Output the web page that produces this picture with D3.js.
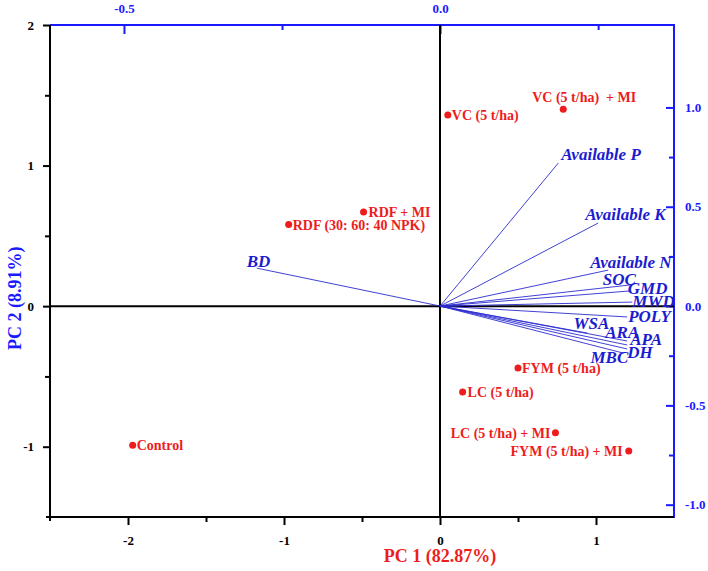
<!DOCTYPE html>
<html>
<head>
<meta charset="utf-8">
<script src="https://cdn.jsdelivr.net/npm/d3@7"></script>
<style>
  html, body { margin: 0; padding: 0; background: #fff; }
  svg { display: block; }
  text { font-family: "Liberation Serif", "Times New Roman", serif; }
</style>
</head>
<body>
<svg id="chart" width="708" height="571"></svg>
<script>
// ---------- data ----------
const treatments = ["VC (5 t/ha)", "VC (5 t/ha)  + MI", "RDF + MI", "RDF (30: 60: 40 NPK)",
  "FYM (5 t/ha)", "LC (5 t/ha)", "LC (5 t/ha) + MI", "FYM (5 t/ha) + MI", "Control"];
const pc1Scores = [0.05, 0.79, -0.49, -0.97, 0.50, 0.145, 0.74, 1.21, -1.97];
const pc2Scores = [1.36, 1.40, 0.67, 0.58, -0.44, -0.61, -0.90, -1.03, -0.99];

const variables = ["Available P", "Available K", "Available N", "SOC", "GMD", "MWD", "POLY",
  "WSA", "ARA", "APA", "DH", "MBC", "BD"];
const pc1Loadings = [0.187, 0.250, 0.266, 0.300, 0.300, 0.304, 0.296, 0.233, 0.296, 0.296, 0.296, 0.290, -0.290];
const pc2Loadings = [0.720, 0.418, 0.181, 0.106, 0.076, 0.020, -0.055, -0.136, -0.176, -0.196, -0.216, -0.237, 0.191];

const bottomTicks = [-2, -1, 0, 1];
const bottomMinor = [-1.5, -0.5, 0.5];
const leftTicks = [2, 1, 0, -1];
const leftMinor = [1.5, 0.5, -0.5];
const topTicks = [-0.5, 0.0];
const topMinor = [-0.25, 0.25];
const rightTicks = [1.0, 0.5, 0.0, -0.5, -1.0];
const rightMinor = [0.75, 0.25, -0.25, -0.75];

const xTitle = "PC 1 (82.87%)";
const yTitle = "PC 2 (8.91%)";

// ---------- layout (not data) ----------
// label placement per treatment: [anchor, dx, dy]
const pointLabelPos = [
  ["start", 4, 5], ["start", -31, -7], ["start", 5, 5], ["start", 4, 5],
  ["start", 4, 5], ["start", 5, 5], ["end", -5, 5], ["end", -6, 5], ["start", 4, 5]
];
// label offsets per variable: [dx, dy]
const varLabelPos = [
  [3, -3], [-13, -3], [-18, -2], [-27, 0], [-2, 3], [0, 5], [1, 5],
  [-14, -4], [-22, -3], [3, 0], [0, 9], [-33, 10], [-10, -1]
];

const red = "#ee1c1c", blue = "#1a1aff", vblue = "#2b2bd0", vtext = "#1c1ccf";

const L = 50, R = 674, T = 25, B = 517;
const x = d3.scaleLinear().domain([-2.5, 1.5]).range([L, R]);
const y = d3.scaleLinear().domain([-1.5, 2]).range([B, T]);
const xTop = d3.scaleLinear().domain([-0.617, 0.370]).range([L, R]);
const yRight = d3.scaleLinear().domain([-1.062, 1.415]).range([B, T]);

const svg = d3.select("#chart");

const intFmt = d => String(d);
const decFmt = d => d.toFixed(1);

// ---------- axes ----------
function styleAxis(g, color, size) {
  g.select(".domain").remove();
  g.selectAll("line").attr("stroke", color).attr("stroke-width", 2);
  g.selectAll("text").attr("fill", color).attr("font-weight", "bold").attr("font-size", size)
    .attr("font-family", "'Liberation Serif', 'Times New Roman', serif");
}
function minor(g, color) {
  g.select(".domain").remove();
  g.selectAll("line").attr("stroke", color).attr("stroke-width", 2);
}

// bottom
const gb = svg.append("g").attr("transform", `translate(0,${B})`);
gb.call(d3.axisBottom(x).tickValues(bottomTicks).tickSize(8).tickPadding(11).tickFormat(intFmt));
styleAxis(gb, "#000", 13);
gb.append("g").call(d3.axisBottom(x).tickValues(bottomMinor).tickSize(5).tickFormat("")).call(g => minor(g, "#000"));

// left
const gl = svg.append("g").attr("transform", `translate(${L},0)`);
gl.call(d3.axisLeft(y).tickValues(leftTicks).tickSize(7).tickPadding(9).tickFormat(intFmt));
styleAxis(gl, "#000", 13);
gl.append("g").call(d3.axisLeft(y).tickValues(leftMinor).tickSize(5).tickFormat("")).call(g => minor(g, "#000"));

// top (inward ticks)
const gt = svg.append("g").attr("transform", `translate(0,${T})`);
gt.call(d3.axisTop(xTop).tickValues(topTicks).tickSizeInner(-9).tickSizeOuter(0).tickPadding(12).tickFormat(decFmt));
styleAxis(gt, blue, 13);
gt.append("g").call(d3.axisTop(xTop).tickValues(topMinor).tickSizeInner(-5).tickSizeOuter(0).tickFormat("")).call(g => minor(g, blue));

// right (inward ticks)
const gr = svg.append("g").attr("transform", `translate(${R},0)`);
gr.call(d3.axisRight(yRight).tickValues(rightTicks).tickSizeInner(-8).tickSizeOuter(0).tickPadding(11).tickFormat(decFmt));
styleAxis(gr, blue, 13);
gr.append("g").call(d3.axisRight(yRight).tickValues(rightMinor).tickSizeInner(-5).tickSizeOuter(0).tickFormat("")).call(g => minor(g, blue));

// frame lines
svg.append("line").attr("x1", L).attr("x2", R).attr("y1", T).attr("y2", T).attr("stroke", blue).attr("stroke-width", 2);
svg.append("line").attr("x1", R).attr("x2", R).attr("y1", T - 1).attr("y2", B + 1).attr("stroke", blue).attr("stroke-width", 2);
svg.append("line").attr("x1", L - 4).attr("x2", R).attr("y1", B).attr("y2", B).attr("stroke", "#000").attr("stroke-width", 2);
svg.append("line").attr("x1", L).attr("x2", L).attr("y1", T).attr("y2", B + 4).attr("stroke", "#000").attr("stroke-width", 2);

// zero lines
svg.append("line").attr("x1", x(0)).attr("x2", x(0)).attr("y1", T).attr("y2", B).attr("stroke", "#000").attr("stroke-width", 2);
svg.append("line").attr("x1", L).attr("x2", R).attr("y1", y(0)).attr("y2", y(0)).attr("stroke", "#000").attr("stroke-width", 2);

// ---------- loading vectors ----------
const vg = svg.append("g");
variables.forEach((v, i) => {
  const ex = xTop(pc1Loadings[i]), ey = yRight(pc2Loadings[i]);
  vg.append("line").attr("x1", xTop(0)).attr("y1", yRight(0)).attr("x2", ex).attr("y2", ey)
    .attr("stroke", vblue).attr("stroke-width", 0.9);
  vg.append("text").attr("x", ex + varLabelPos[i][0]).attr("y", ey + varLabelPos[i][1])
    .attr("fill", vtext).attr("font-size", 17).attr("font-weight", "bold").attr("font-style", "italic")
    .text(v);
});

// ---------- score points ----------
const pg = svg.append("g");
treatments.forEach((t, i) => {
  const px = x(pc1Scores[i]), py = y(pc2Scores[i]);
  pg.append("circle").attr("cx", px).attr("cy", py).attr("r", 3.5).attr("fill", red);
  const [anc, dx, dy] = pointLabelPos[i];
  pg.append("text").attr("x", px + dx).attr("y", py + dy).attr("text-anchor", anc)
    .attr("fill", red).attr("font-size", 14).attr("font-weight", "bold")
    .style("white-space", "pre").text(t);
});

// ---------- titles ----------
svg.append("text").attr("x", x(0)).attr("y", 562).attr("text-anchor", "middle")
  .attr("fill", red).attr("font-size", 18).attr("font-weight", "bold").text(xTitle);
svg.append("text").attr("transform", `translate(21,${y(0) - 8}) rotate(-90)`).attr("text-anchor", "middle")
  .attr("fill", blue).attr("font-size", 18).attr("font-weight", "bold").text(yTitle);
</script>
</body>
</html>
